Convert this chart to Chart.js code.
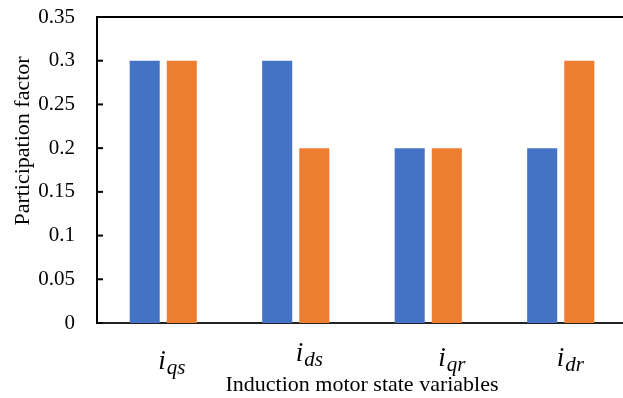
<!DOCTYPE html>
<html>
<head>
<meta charset="utf-8">
<script src="https://cdn.jsdelivr.net/npm/chart.js@4"></script>
<style>
  html, body { margin: 0; padding: 0; background: #fff; overflow: hidden; }
  #wrap { width: 628px; height: 398px; }
</style>
</head>
<body>
<div id="wrap"><canvas id="myChart"></canvas></div>
<script>
// state variables of the induction motor (letter_subscript)
const stateVars = ['i_qs', 'i_ds', 'i_qr', 'i_dr'];
const seriesBlue = [0.3, 0.3, 0.2, 0.2];
const seriesOrange = [0.3, 0.2, 0.2, 0.3];
const yTickValues = [0, 0.05, 0.1, 0.15, 0.2, 0.25, 0.3, 0.35];

const serif = "'Liberation Serif', 'Times New Roman', serif";

// small nudges of each category label, like the original layout
const labelNudge = [[8, 3], [13, -5], [23, 0], [9, 0]];

const decorPlugin = {
    id: 'decor',
    afterDraw(chart) {
        const c = chart.ctx;
        const area = chart.chartArea;
        const y = chart.scales.y;
        const x = chart.scales.x;
        c.save();

        // top frame line
        c.strokeStyle = '#000';
        c.lineWidth = 2;
        c.beginPath();
        c.moveTo(area.left - 1, area.top);
        c.lineTo(area.right, area.top);
        c.stroke();

        // inside tick marks on the value axis
        yTickValues.forEach(v => {
            const py = y.getPixelForValue(v);
            c.beginPath();
            c.moveTo(area.left, py);
            c.lineTo(area.left + 6, py);
            c.stroke();
        });

        // category labels: italic i with subscript
        c.fillStyle = '#000';
        c.textBaseline = 'alphabetic';
        c.textAlign = 'left';
        stateVars.forEach((lbl, idx) => {
            const [main, sub] = lbl.split('_');
            const cx = x.getPixelForValue(idx) + labelNudge[idx][0];
            const base = 366 + labelNudge[idx][1];
            c.font = 'italic 27px ' + serif;
            const wMain = c.measureText(main).width;
            c.font = 'italic 21px ' + serif;
            const wSub = c.measureText(sub).width;
            const x0 = cx - (wMain + wSub) / 2;
            c.font = 'italic 27px ' + serif;
            c.fillText(main, x0, base);
            c.font = 'italic 21px ' + serif;
            c.fillText(sub, x0 + wMain + 1, base + 5);
        });

        // axis titles
        c.font = '22px ' + serif;
        c.textAlign = 'center';
        c.textBaseline = 'middle';
        c.fillText('Induction motor state variables', (area.left + area.right) / 2, 385);
        c.translate(23, 141);
        c.rotate(-Math.PI / 2);
        c.fillText('Participation factor', 0, 0);
        c.restore();
    }
};

const ctx = document.getElementById('myChart').getContext('2d');

new Chart(ctx, {
    type: 'bar',
    data: {
        labels: stateVars,
        datasets: [{
            data: seriesBlue,
            backgroundColor: '#4472C4',
            barPercentage: 0.81,
            categoryPercentage: 0.56
        }, {
            data: seriesOrange,
            backgroundColor: '#ED7D31',
            barPercentage: 0.81,
            categoryPercentage: 0.56
        }]
    },
    options: {
        responsive: true,
        maintainAspectRatio: false,
        animation: false,
        layout: { padding: { top: 17, left: 0, right: 1, bottom: 0 } },
        plugins: {
            legend: { display: false },
            tooltip: { enabled: false }
        },
        scales: {
            x: {
                grid: { display: false, drawTicks: false },
                border: { color: '#222', width: 2 },
                ticks: { display: false },
                afterFit(scale) {
                    scale.height = 75;
                    scale.paddingLeft = 0;
                    scale.paddingRight = 0;
                }
            },
            y: {
                min: 0,
                max: 0.35,
                afterBuildTicks(scale) {
                    scale.ticks = yTickValues.map(v => ({ value: v }));
                },
                grid: { display: false, drawTicks: false },
                border: { color: '#000', width: 2 },
                ticks: {
                    padding: 22,
                    color: '#000',
                    font: { family: serif, size: 21 },
                    callback: v => String(parseFloat(v.toFixed(2)))
                },
                afterFit(scale) {
                    scale.width = 97;
                    scale.paddingTop = 0;
                    scale.paddingBottom = 0;
                }
            }
        }
    },
    plugins: [decorPlugin]
});
</script>
</body>
</html>
